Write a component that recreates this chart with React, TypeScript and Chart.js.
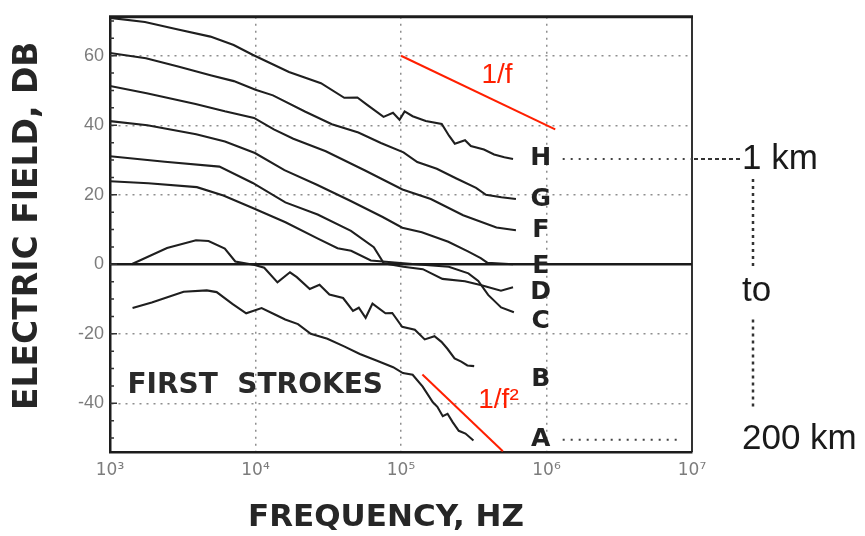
import { useEffect, useRef } from 'react';
import { Chart, registerables } from 'chart.js';

Chart.register(...registerables);

// Frequency values are stored as log10(Hz); field strength in dB.
const hLogF = [3.0, 3.24, 3.46, 3.69, 3.85, 3.98, 4.23, 4.45, 4.61, 4.7, 4.77, 4.88, 4.945, 4.99, 5.025, 5.08, 5.17, 5.28, 5.33, 5.37, 5.44, 5.48, 5.57, 5.64, 5.71, 5.77];
const hDb = [70.9, 69.7, 67.6, 65.5, 63.1, 60.3, 55.3, 52.1, 47.9, 48.0, 45.8, 42.4, 43.6, 41.6, 44.0, 42.6, 41.2, 40.4, 37.0, 34.7, 35.7, 34.0, 33.0, 31.6, 30.8, 30.3];

const gLogF = [3.0, 3.247, 3.468, 3.697, 3.851, 4.0, 4.12, 4.343, 4.525, 4.707, 4.862, 5.017, 5.112, 5.246, 5.381, 5.516, 5.584, 5.69, 5.79];
const gDb = [60.8, 59.3, 56.9, 54.3, 52.7, 50.2, 48.6, 43.9, 40.3, 37.9, 34.9, 32.2, 29.4, 27.5, 24.7, 22.0, 20.0, 19.3, 18.8];

const fLogF = [3.0, 3.252, 3.588, 3.789, 3.99, 4.126, 4.26, 4.483, 4.753, 5.01, 5.205, 5.427, 5.656, 5.79];
const fDb = [51.3, 49.2, 46.1, 44.0, 42.1, 38.8, 36.1, 32.5, 27.0, 21.5, 18.8, 14.1, 10.6, 9.8];

const eLogF = [3.0, 3.257, 3.592, 3.79, 3.996, 4.199, 4.422, 4.651, 4.874, 5.009, 5.143, 5.325, 5.46, 5.548, 5.595, 5.77];
const eDb = [41.2, 40.0, 37.4, 35.3, 32.0, 27.1, 22.9, 18.3, 13.6, 10.5, 9.2, 6.5, 3.7, 1.8, 0.4, 0];

const dLogF = [3.0, 3.377, 3.752, 3.981, 4.205, 4.427, 4.656, 4.813, 4.882, 5.016, 5.15, 5.285, 5.439, 5.553, 5.687, 5.77];
const dDb = [31.1, 29.5, 28.1, 23.4, 17.8, 14.3, 9.6, 4.9, 0.3, -0.7, -1.4, -4.2, -4.9, -6.0, -7.6, -6.6];

const cLogF = [3.0, 3.263, 3.597, 3.779, 3.981, 4.206, 4.429, 4.564, 4.657, 4.793, 5.1, 5.328, 5.463, 5.531, 5.599, 5.688, 5.776];
const cDb = [23.9, 23.3, 22.2, 19.8, 16.2, 12.1, 7.4, 4.6, 3.9, 1.1, 0, -0.7, -2.6, -4.8, -8.8, -12.4, -13.8];

const bLogF = [3.148, 3.392, 3.591, 3.677, 3.789, 3.861, 3.995, 4.06, 4.151, 4.237, 4.284, 4.373, 4.44, 4.508, 4.602, 4.67, 4.71, 4.757, 4.804, 4.893, 4.94, 5.008, 5.095, 5.163, 5.23, 5.278, 5.319, 5.368, 5.414, 5.456, 5.503];
const bDb = [0, 4.7, 6.9, 6.7, 4.5, 0.8, -0.2, -1.0, -5.2, -2.3, -3.7, -7.1, -5.9, -8.7, -9.7, -13.4, -12.5, -15.4, -11.3, -14.1, -14.0, -18.0, -18.8, -21.6, -20.7, -22.3, -24.3, -27.1, -28.0, -29.1, -29.3];

const aLogF = [3.155, 3.287, 3.506, 3.665, 3.733, 3.841, 3.936, 4.042, 4.137, 4.204, 4.292, 4.38, 4.494, 4.609, 4.717, 4.831, 4.946, 5.013, 5.08, 5.149, 5.219, 5.25, 5.287, 5.32, 5.355, 5.397, 5.443, 5.498];
const aDb = [-12.6, -11.0, -7.9, -7.5, -8.0, -11.4, -14.1, -12.6, -14.5, -15.9, -17.2, -20.0, -21.4, -23.6, -25.8, -27.7, -29.6, -31.3, -31.8, -35.2, -39.7, -41.0, -43.7, -43.0, -45.4, -47.9, -48.7, -50.7];

// 0 dB reference line across the whole band
const zeroLogF = [3, 7];
const zeroDb = [0, 0];

// Reference slopes: 1/f (-20 dB/decade) and 1/f^2 (-40 dB/decade)
const slopeOneLogF = [5.0, 6.06];
const slopeOneDb = [60, 38.8];
const slopeTwoLogF = [5.147, 5.7];
const slopeTwoDb = [-31.7, -53.8];

const curveLetters = ['H', 'G', 'F', 'E', 'D', 'C', 'B', 'A'];
const curveLabelDb = [30.3, 18.6, 9.8, -0.5, -8, -16.5, -33, -50.5];
const curveLabelLogF = 5.96;

const xTickExps = [3, 4, 5, 6, 7];
const xTickLabels = ['10³', '10⁴', '10⁵', '10⁶', '10⁷'];
const yTickValues = [-40, -20, 0, 20, 40, 60];
const yMinorStep = 5;

const Y_MIN = -54;
const Y_MAX = 71.2;

const INK = '#1f1f1f';
const RED = '#ff1f00';
const GRID = '#8e8e8e';
const TITLE_FONT = '"DejaVu Sans", sans-serif';

const toPoints = (lf: number[], db: number[]) => lf.map((v, i) => ({ x: Math.pow(10, v), y: db[i] }));

const curveSet = (lf: number[], db: number[], color = INK, width = 2.1) => ({
  data: toPoints(lf, db),
  borderColor: color,
  borderWidth: width,
  pointRadius: 0,
  tension: 0,
  fill: false,
});

const annotate = {
  id: 'annotate',
  afterDatasetsDraw(chart: any) {
    const { ctx, chartArea: ca, scales } = chart;
    const x = scales.x;
    const y = scales.y;
    ctx.save();

    // top and right edges of the frame
    ctx.strokeStyle = '#1c1c1c';
    ctx.lineWidth = 3;
    ctx.beginPath();
    ctx.moveTo(ca.left - 1, ca.top);
    ctx.lineTo(ca.right + 1, ca.top);
    ctx.stroke();
    ctx.lineWidth = 1.8;
    ctx.beginPath();
    ctx.moveTo(ca.right, ca.top);
    ctx.lineTo(ca.right, ca.bottom);
    ctx.stroke();

    // minor ticks along the inside of the left edge
    ctx.lineWidth = 1.5;
    ctx.strokeStyle = '#333';
    ctx.beginPath();
    for (let v = Math.ceil(Y_MIN / yMinorStep) * yMinorStep; v <= Y_MAX; v += yMinorStep) {
      const py = y.getPixelForValue(v);
      const len = v % 20 === 0 ? 7 : 4;
      ctx.moveTo(ca.left, py);
      ctx.lineTo(ca.left + len, py);
    }
    ctx.stroke();

    // curve letters
    const lx = x.getPixelForValue(Math.pow(10, curveLabelLogF));
    ctx.fillStyle = '#222';
    ctx.font = `bold 25px ${TITLE_FONT}`;
    ctx.textAlign = 'center';
    ctx.textBaseline = 'middle';
    curveLetters.forEach((t, i) => {
      ctx.fillText(t, lx, y.getPixelForValue(curveLabelDb[i]));
    });

    // "FIRST STROKES"
    ctx.font = `bold 28px ${TITLE_FONT}`;
    ctx.textAlign = 'left';
    ctx.fillStyle = '#2a2a2a';
    ctx.fillText('FIRST  STROKES', x.getPixelForValue(Math.pow(10, 3.12)), y.getPixelForValue(-35));

    // slope labels
    ctx.fillStyle = RED;
    ctx.font = '28px "Liberation Sans", Arial, sans-serif';
    ctx.textAlign = 'center';
    ctx.fillText('1/f', x.getPixelForValue(Math.pow(10, 5.66)), y.getPixelForValue(54.3));
    ctx.fillText('1/f²', x.getPixelForValue(Math.pow(10, 5.67)), y.getPixelForValue(-39));

    // distance range markers
    const hY = y.getPixelForValue(curveLabelDb[0]);
    const aY = y.getPixelForValue(curveLabelDb[7]);
    ctx.strokeStyle = '#444';
    ctx.lineWidth = 2;
    ctx.setLineDash([2, 6]);
    ctx.beginPath();
    ctx.moveTo(lx + 22, hY);
    ctx.lineTo(ca.right, hY);
    ctx.moveTo(lx + 22, aY);
    ctx.lineTo(ca.right - 12, aY);
    ctx.stroke();

    ctx.strokeStyle = '#333';
    ctx.setLineDash([4, 3]);
    ctx.beginPath();
    ctx.moveTo(ca.right + 2, hY);
    ctx.lineTo(ca.right + 48, hY);
    ctx.stroke();

    const textX = ca.right + 50;
    const toY = (hY + aY) / 2 - 8;
    const vx = ca.right + 61;
    ctx.lineWidth = 2.5;
    ctx.setLineDash([3, 4]);
    ctx.beginPath();
    ctx.moveTo(vx, hY + 20);
    ctx.lineTo(vx, toY - 22);
    ctx.moveTo(vx, toY + 28);
    ctx.lineTo(vx, aY - 30);
    ctx.stroke();
    ctx.setLineDash([]);

    ctx.fillStyle = '#1a1a1a';
    ctx.font = '35px "Liberation Sans", Arial, sans-serif';
    ctx.textAlign = 'left';
    ctx.textBaseline = 'middle';
    ctx.fillText('1 km', textX, hY);
    ctx.fillText('to', textX, toY);
    ctx.fillText('200 km', textX, aY);

    // axis titles
    ctx.fillStyle = '#262626';
    ctx.font = `bold 31px ${TITLE_FONT}`;
    ctx.textAlign = 'center';
    ctx.fillText('FREQUENCY, HZ', ca.left + 276, ca.bottom + 66);

    ctx.save();
    ctx.translate(28, ca.top + 209);
    ctx.rotate(-Math.PI / 2);
    ctx.font = `bold 33px ${TITLE_FONT}`;
    ctx.fillText('ELECTRIC FIELD, DB', 0, 0);
    ctx.restore();

    ctx.restore();
  },
};

export default function App() {
  const canvasRef = useRef<HTMLCanvasElement>(null);

  useEffect(() => {
    const canvas = canvasRef.current;
    if (!canvas) return;

    const chart = new Chart(canvas, {
      type: 'line',
      data: {
        datasets: [
          curveSet(zeroLogF, zeroDb, '#1a1a1a', 2.6),
          curveSet(hLogF, hDb),
          curveSet(gLogF, gDb),
          curveSet(fLogF, fDb),
          curveSet(eLogF, eDb),
          curveSet(dLogF, dDb),
          curveSet(cLogF, cDb),
          curveSet(bLogF, bDb),
          curveSet(aLogF, aDb),
          curveSet(slopeOneLogF, slopeOneDb, RED, 2),
          curveSet(slopeTwoLogF, slopeTwoDb, RED, 2),
        ],
      },
      options: {
        responsive: false,
        animation: false,
        devicePixelRatio: 1,
        layout: { padding: { top: 16, right: 173, bottom: 0, left: 0 } },
        plugins: { legend: { display: false }, tooltip: { enabled: false } },
        scales: {
          x: {
            type: 'logarithmic',
            min: Math.pow(10, xTickExps[0]),
            max: Math.pow(10, xTickExps[xTickExps.length - 1]),
            afterBuildTicks: (s: any) => {
              s.ticks = xTickExps.map((e) => ({ value: Math.pow(10, e) }));
            },
            afterFit: (s: any) => {
              s.height = 84;
            },
            ticks: {
              autoSkip: false,
              maxRotation: 0,
              padding: 8,
              color: '#7c7c7c',
              font: { family: '"DejaVu Sans", sans-serif', size: 17 },
              callback: (_v: any, i: number) => xTickLabels[i],
            },
            grid: {
              drawTicks: false,
              lineWidth: 1.5,
              color: (c: any) => {
                const v = c.tick ? c.tick.value : 0;
                return v <= 1e3 || v >= 1e7 ? 'rgba(0,0,0,0)' : GRID;
              },
            },
            border: { display: true, color: '#1c1c1c', width: 2.5, dash: [2, 5] },
          },
          y: {
            min: Y_MIN,
            max: Y_MAX,
            afterBuildTicks: (s: any) => {
              s.ticks = yTickValues.map((v) => ({ value: v }));
            },
            afterFit: (s: any) => {
              s.width = 110;
            },
            ticks: {
              padding: 6,
              color: '#7c7c7c',
              font: { family: '"Liberation Sans", Arial, sans-serif', size: 18 },
              callback: (v: any) => String(v),
            },
            grid: {
              drawTicks: false,
              lineWidth: 1.5,
              color: (c: any) => (c.tick && c.tick.value === 0 ? 'rgba(0,0,0,0)' : GRID),
            },
            border: { display: true, color: '#1c1c1c', width: 2.5, dash: [2, 5] },
          },
        },
      },
      plugins: [annotate],
    } as any);

    return () => chart.destroy();
  }, []);

  return (
    <div style={{ position: 'fixed', left: 0, top: 0, width: 865, height: 536, background: '#fff' }}>
      <canvas ref={canvasRef} width={865} height={536} style={{ display: 'block' }} />
    </div>
  );
}
